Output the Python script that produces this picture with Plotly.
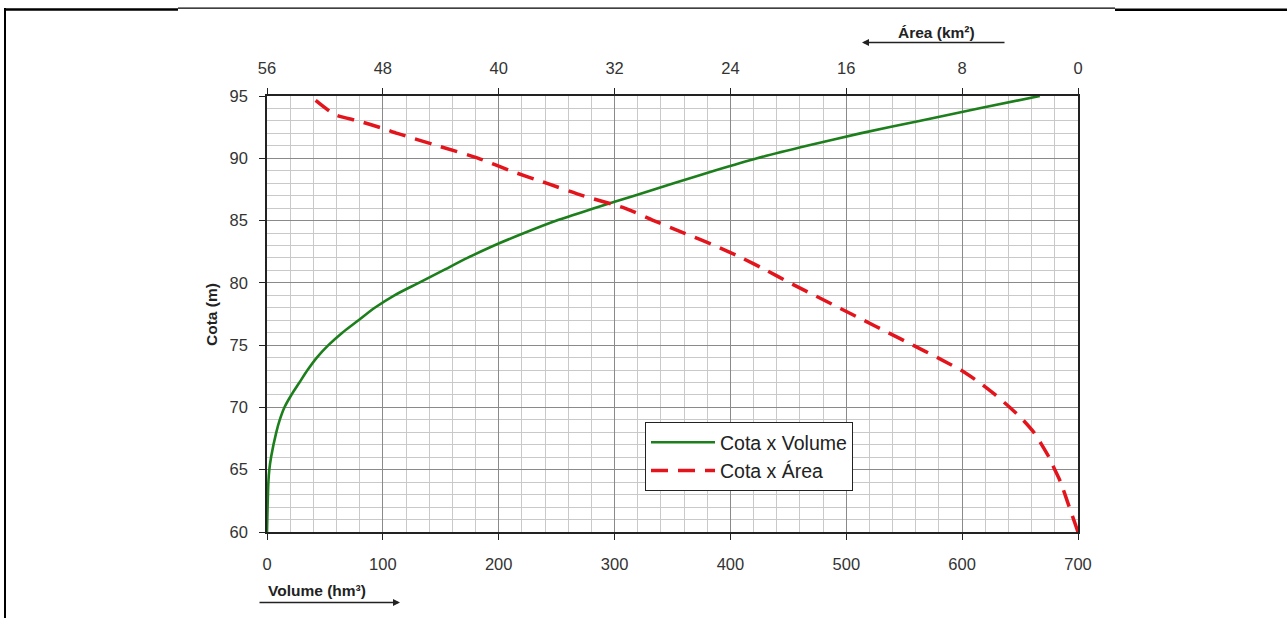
import plotly.graph_objects as go

# ---- data ----
cota_vol = [60, 62, 64, 65, 66, 68, 69, 70, 71, 72, 73, 74, 75, 76, 77, 78, 79, 80,
            81, 82, 83, 84, 85, 86, 87, 88, 89, 90, 91, 92, 93, 94, 95]
volume = [0, 0.5, 1.2, 2, 3.5, 8, 11, 15, 21, 28, 35, 43, 53, 65, 79, 93, 110, 131,
          152, 173, 196, 222, 250, 283, 317, 351, 386, 423, 466, 512, 563, 614, 667]

cota_area = [60, 62, 64, 65, 66, 67, 68, 69, 70, 71, 72, 73, 74, 75, 76, 77, 78, 79, 80,
             81, 82, 83, 84, 85, 86, 87, 88, 89, 90, 91, 92, 92.4, 93, 93.5, 94.8]
area = [0, 0.6, 1.2, 1.6, 2.0, 2.5, 3.05, 3.8, 4.7, 5.7, 6.8, 8.1, 9.7, 11.4, 13.1, 14.8,
        16.5, 18.2, 19.9, 21.5, 23.2, 25.1, 27.2, 29.3, 31.3, 34.2, 36.7, 39.2, 41.4, 44.2,
        47.0, 48.0, 49.7, 51.3, 52.8]

vol_ticks = [0, 100, 200, 300, 400, 500, 600, 700]
area_ticks = [56, 48, 40, 32, 24, 16, 8, 0]
cota_ticks = [60, 65, 70, 75, 80, 85, 90, 95]

# ---- layout geometry (pixels) ----
W, H = 1287, 618
L, R, T, B = 267, 1078, 96, 532


def px(x):
    return (x - L) / (R - L)


def py(y):
    return (B - y) / (B - T)


FONT = "Arial, Liberation Sans, sans-serif"
GREEN = "#1c7f1c"
RED = "#e3141c"

fig = go.Figure()
fig.add_trace(go.Scatter(x=volume, y=cota_vol, mode="lines", name="Cota x Volume",
                         line=dict(color=GREEN, width=2.6, shape="spline", smoothing=0.7),
                         xaxis="x", yaxis="y"))
fig.add_trace(go.Scatter(x=area, y=cota_area, mode="lines", name="Cota x Área",
                         line=dict(color=RED, width=3.5, dash="17px,10px",
                                   shape="spline", smoothing=0.6),
                         xaxis="x2", yaxis="y"))

tickfont = dict(family=FONT, size=16.5, color="#333333")
fig.update_layout(
    width=W, height=H,
    margin=dict(l=L, r=W - R, t=T, b=H - B),
    paper_bgcolor="white", plot_bgcolor="white",
    font=dict(family=FONT, color="#222222"),
    xaxis=dict(range=[0, 700], tickvals=vol_ticks, ticktext=[str(v) for v in vol_ticks],
               showgrid=True, gridcolor="#8a8a8a", gridwidth=1,
               minor=dict(dtick=20, tick0=0, showgrid=True, gridcolor="#c9c9c9", gridwidth=1),
               showline=True, linecolor="#222222", linewidth=1.5,
               ticks="outside", ticklen=6, tickcolor="#222222", tickwidth=1.2,
               tickfont=tickfont, ticklabelstandoff=10, zeroline=False),
    xaxis2=dict(range=[56, 0], overlaying="x", side="top", tickvals=area_ticks,
                ticktext=[str(v) for v in area_ticks], showgrid=False,
                showline=True, linecolor="#222222", linewidth=1.5,
                ticks="outside", ticklen=6, tickcolor="#222222", tickwidth=1.2,
                tickfont=tickfont, ticklabelstandoff=8, zeroline=False),
    yaxis=dict(range=[60, 95], tickvals=cota_ticks, ticktext=[str(v) for v in cota_ticks],
               showgrid=True, gridcolor="#8a8a8a", gridwidth=1,
               minor=dict(dtick=1, tick0=60, showgrid=True, gridcolor="#c9c9c9", gridwidth=1),
               showline=True, linecolor="#222222", linewidth=1.5, mirror=True,
               ticks="outside", ticklen=6, tickcolor="#222222", tickwidth=1.2,
               tickfont=tickfont, ticklabelstandoff=8, zeroline=False),
    showlegend=True,
    legend=dict(x=px(645), y=py(422), xanchor="left", yanchor="top",
                bgcolor="white", bordercolor="#222222", borderwidth=1,
                font=dict(family=FONT, size=19.5, color="#222222"),
                itemwidth=64),
)

lab = dict(family=FONT, size=15.5, color="#222222")
annotations = [
    dict(text="<b>Cota (m)</b>", x=px(211), y=py(315), xref="paper", yref="paper",
         xanchor="center", yanchor="middle",
         showarrow=False, textangle=-90, font=lab),
    dict(text="<b>Área (km²)</b>", x=px(936), y=py(33), xref="paper", yref="paper",
         xanchor="center", yanchor="middle", showarrow=False, font=lab),
    dict(text="<b>Volume (hm³)</b>", x=px(317), y=py(590), xref="paper", yref="paper",
         xanchor="center", yanchor="middle", showarrow=False, font=lab),
    # arrows
    dict(text="", x=px(862), y=py(42.5), xref="paper", yref="paper", showarrow=True,
         ax=1006 - 862, ay=0, arrowhead=2, arrowsize=1, arrowwidth=1.4, arrowcolor="#222222"),
    dict(text="", x=px(400), y=py(602.5), xref="paper", yref="paper", showarrow=True,
         ax=258 - 400, ay=0, arrowhead=2, arrowsize=1, arrowwidth=1.4, arrowcolor="#222222"),
]
fig.update_layout(annotations=annotations)

shapes = [
    dict(type="line", xref="paper", yref="paper", x0=px(5), x1=px(5), y0=py(8), y1=py(620),
         line=dict(color="black", width=2)),
    dict(type="line", xref="paper", yref="paper", x0=px(4), x1=px(178), y0=py(9.5), y1=py(9.5),
         line=dict(color="black", width=2.5)),
    dict(type="line", xref="paper", yref="paper", x0=px(178), x1=px(1115), y0=py(8.2), y1=py(8.2),
         line=dict(color="black", width=1.3)),
    dict(type="line", xref="paper", yref="paper", x0=px(1115), x1=px(1290), y0=py(9.8), y1=py(9.8),
         line=dict(color="black", width=2.5)),
]
fig.update_layout(shapes=shapes)

fig.write_html("out.html")
